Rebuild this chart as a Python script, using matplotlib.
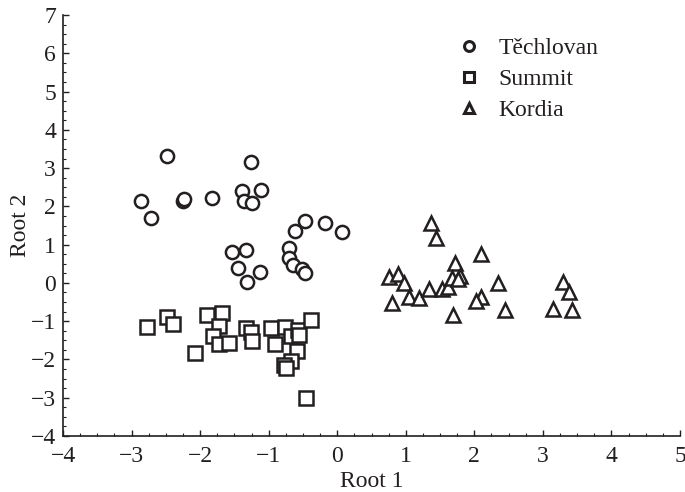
import numpy as np
import matplotlib
matplotlib.use("Agg")
import matplotlib.pyplot as plt
from matplotlib.ticker import MultipleLocator

# ==============================
# DATA
# ==============================

techlovan_x = [-2.49, -1.26, -2.86, -2.72, -2.25, -2.23, -1.82, -1.39, -1.11, -1.36,
               -1.24, -0.47, -0.62, -0.18, 0.07, -1.54, -1.33, -1.45, -1.13, -1.32,
               -0.70, -0.70, -0.64, -0.51, -0.47]
techlovan_y = [3.32, 3.15, 2.15, 1.69, 2.15, 2.18, 2.22, 2.39, 2.43, 2.15,
               2.08, 1.63, 1.36, 1.56, 1.32, 0.80, 0.87, 0.39, 0.28, 0.03,
               0.91, 0.66, 0.47, 0.36, 0.27]

summit_x = [-2.78, -2.49, -2.39, -2.07, -1.90, -1.68, -1.72, -1.81, -1.72, -1.58,
            -1.33, -1.26, -1.24, -0.96, -0.91, -0.76, -0.68, -0.57, -0.56, -0.38,
            -0.59, -0.68, -0.78, -0.74, -0.46]
summit_y = [-1.14, -0.89, -1.07, -1.84, -0.83, -0.79, -1.12, -1.38, -1.59, -1.56,
            -1.18, -1.27, -1.53, -1.18, -1.59, -1.14, -1.40, -1.24, -1.36, -0.97,
            -1.79, -2.05, -2.14, -2.23, -3.01]

kordia_x = [1.37, 1.44, 2.09, 1.72, 0.75, 0.89, 0.97, 1.05, 1.19, 0.80,
            1.34, 1.53, 1.61, 1.67, 1.79, 1.76, 1.69, 2.10, 2.03, 2.34,
            2.45, 3.30, 3.38, 3.15, 3.42]
kordia_y = [1.57, 1.18, 0.75, 0.51, 0.15, 0.23, 0.01, -0.37, -0.40, -0.53,
            -0.15, -0.15, -0.11, 0.14, 0.18, 0.11, -0.84, -0.36, -0.48, -0.01,
            -0.70, 0.03, -0.24, -0.68, -0.70]

groups = ["Těchlovan", "Summit", "Kordia"]
markers = ["o", "s", "^"]

# ==============================
# PLOT
# ==============================

plt.rcParams['font.family'] = ['Liberation Serif', 'DejaVu Serif']

ink = "#231f20"

fig = plt.figure(figsize=(6.85, 4.92), dpi=100)
ax = fig.add_axes([63 / 685, 1 - 436 / 492, 617 / 685, 421 / 492])

data = [(techlovan_x, techlovan_y), (summit_x, summit_y), (kordia_x, kordia_y)]
for (xs, ys), name, m in zip(data, groups, markers):
    ax.plot(xs, ys, linestyle="none", marker=m, markersize=9.5,
            markerfacecolor="white", markeredgecolor=ink,
            markeredgewidth=1.8, label=name)

ax.set_xlim(-4, 5)
ax.set_ylim(-4, 7)
ax.xaxis.set_major_locator(MultipleLocator(1))
ax.yaxis.set_major_locator(MultipleLocator(1))
ax.xaxis.set_minor_locator(MultipleLocator(0.25))
ax.yaxis.set_minor_locator(MultipleLocator(0.25))

for s in ["top", "right"]:
    ax.spines[s].set_visible(False)
for s in ["left", "bottom"]:
    ax.spines[s].set_linewidth(1.2)
    ax.spines[s].set_color(ink)

ax.tick_params(which="major", direction="in", length=4, width=1.0,
               colors=ink, labelsize=17)
ax.tick_params(axis="x", which="major", pad=7)
ax.tick_params(axis="y", which="major", pad=5)
ax.tick_params(which="minor", direction="in", length=2.5, width=0.8,
               colors=ink)

ax.set_xlabel("Root 1", fontsize=17, color=ink, labelpad=3)
ax.set_ylabel("Root 2", fontsize=17, color=ink, labelpad=0)

leg = ax.legend(loc="upper left", bbox_to_anchor=(0.639, 0.947), frameon=False,
                fontsize=17, handlelength=1.0, handletextpad=0.76,
                labelspacing=0.4, borderpad=0, borderaxespad=0,
                markerscale=0.75, numpoints=1)
for t in leg.get_texts():
    t.set_color(ink)
for h in leg.legend_handles:
    h.set_markeredgewidth(2.2)

fig.savefig("out.png", dpi=100)
